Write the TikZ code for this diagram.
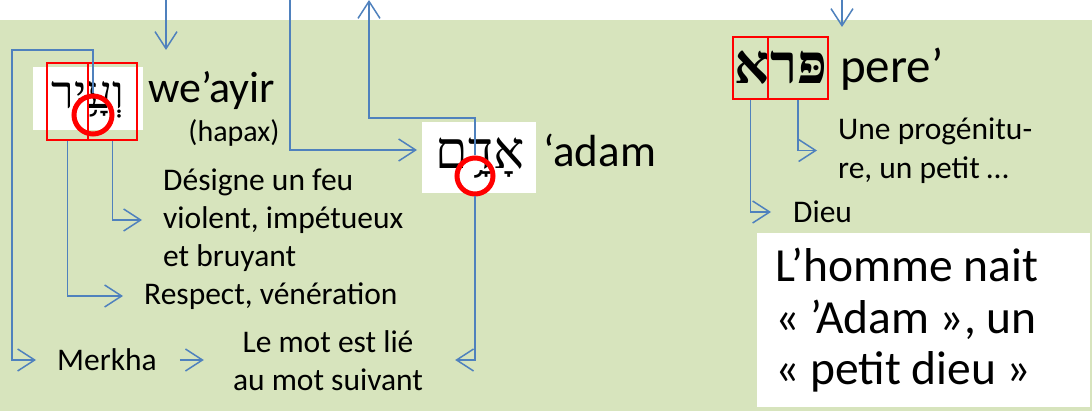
\documentclass[tikz,border=0pt]{standalone}
\usepackage{fontspec}
\setmainfont{Carlito}
\newfontfamily\hebfont[Script=Hebrew]{Liberation Serif}
\TeXXeTstate=1
\usetikzlibrary{arrows.meta}
\definecolor{bggreen}{RGB}{215,228,189}
\definecolor{lineblue}{RGB}{79,129,189}
\begin{document}
\begin{tikzpicture}[x=1pt,y=-1pt,
  conn/.style={draw=lineblue, line width=1.5pt, -{Straight Barb[length=17pt,width=22pt,line width=1.5pt]}},
  txt/.style={font=\fontsize{31.5}{38}\selectfont, inner sep=0pt, align=left},
  redbox/.style={draw=red, line width=1.5pt, inner sep=0pt},
  redcirc/.style={draw=red, line width=5pt, circle, minimum size=34pt, inner sep=0pt},
  himg/.style={fill=white, inner sep=0pt}]
\useasboundingbox (0,0) rectangle (1092,411);
\fill[white] (0,0) rectangle (1092,411);
\fill[bggreen] (0,20) rectangle (1092,411);

% free ends at the top edge
\coordinate (topA) at (166,0);
\coordinate (topA2) at (166,50);
\coordinate (topB) at (290,0);
\coordinate (adin) at (417,150);
\coordinate (topC) at (369,0);
\coordinate (topD) at (842,0);
\coordinate (topD2) at (842,27);

% we'ayir
\node[himg, minimum width=110pt, minimum height=63pt] (wehimg) at (88,98.5) {};
\node[inner sep=0pt] (wehtxt) at (88,100)
  {\hebfont\fontsize{46}{46}\selectfont\beginR וְעָ֥יִר\endR};
\node[redbox, minimum width=41pt, minimum height=77pt] (web1) at (67.5,101.5) {};
\node[redbox, minimum width=49pt, minimum height=77pt] (web2) at (112.5,101.5) {};
\node[redcirc, minimum width=38pt] (wecirc) at (93,115) {};
\node[inner sep=0pt, anchor=base west, font=\fontsize{44}{44}\selectfont] (weword) at (148,103) {we’ayir};
\node[inner sep=0pt, font=\fontsize{30}{30}\selectfont] (hapax) at (234,133) {(hapax)};

\node[txt, anchor=west] (desc) at (163,220) {Désigne un feu\\violent, impétueux\\et bruyant};
\node[txt, anchor=west] (respect) at (144,296) {Respect, vénération};
\node[txt, anchor=west] (merkha) at (57,360) {Merkha};
\node[txt, align=center] (lemot) at (328,361) {Le mot est lié\\au mot suivant};

% 'adam
\node[himg, minimum width=114pt, minimum height=71pt] (adamimg) at (479,157.5) {};
\node[inner sep=0pt] (adamtxt) at (480,158)
  {\hebfont\fontsize{52}{52}\selectfont\beginR אָדָ֥ם\endR};
\node[redcirc, minimum width=36pt] (adcirc) at (475,176) {};
\node[inner sep=0pt, anchor=base west, font=\fontsize{45}{45}\selectfont] (adword) at (543,167) {‘adam};

% pere'
\node[inner sep=0pt] (pereheb) at (781,68)
  {\hebfont\bfseries\fontsize{55}{55}\selectfont\beginR פּרא\endR};
\node[redbox, minimum width=35pt, minimum height=62pt] (pb1) at (750.5,68) {};
\node[redbox, minimum width=60pt, minimum height=62pt] (pb2) at (798,68) {};
\node[inner sep=0pt, anchor=base west, font=\fontsize{49}{49}\selectfont] (pereword) at (840,83) {pere’};
\node[txt, anchor=west, font=\fontsize{31.5}{39}\selectfont] (prog) at (838,150.5) {Une progénitu-\\re, un petit …};
\node[txt, anchor=west] (dieu) at (793,212) {Dieu};

% conclusion box
\node[fill=white, minimum width=333pt, minimum height=174pt, inner sep=0pt] (conclbox) at (923.5,320) {};
\node[inner sep=0pt, anchor=west, align=left, font=\fontsize{47.5}{51.5}\selectfont] (concl) at (775,320.5)
  {L’homme nait\\« ’Adam », un\\« petit dieu »};

% connectors
\draw[conn] (topA) -- (topA2);
\draw[conn] (topB) |- (adin);
\draw[conn] (adcirc.north) |- (topC |- 0,118) -- (topC);
\draw[conn] (adcirc.south) |- ([xshift=32pt]lemot.east |- 0,360);
\draw[conn] (wecirc.north) |- (12,50) |- ([xshift=-21pt]merkha.west);
\draw[conn] ([xshift=23pt]merkha.east) -- ([xshift=-29pt]lemot.west |- merkha.west);
\draw[conn] (web1.south) |- ([xshift=-21pt]respect.west);
\draw[conn] (web2.south) |- ([xshift=-21pt]desc.west);
\draw[conn] (topD) -- (topD2);
\draw[conn] (pb1.south) |- ([xshift=-22pt]dieu.west);
\draw[conn] (pb2.south) |- ([xshift=-21pt]prog.west);
\end{tikzpicture}
\end{document}
